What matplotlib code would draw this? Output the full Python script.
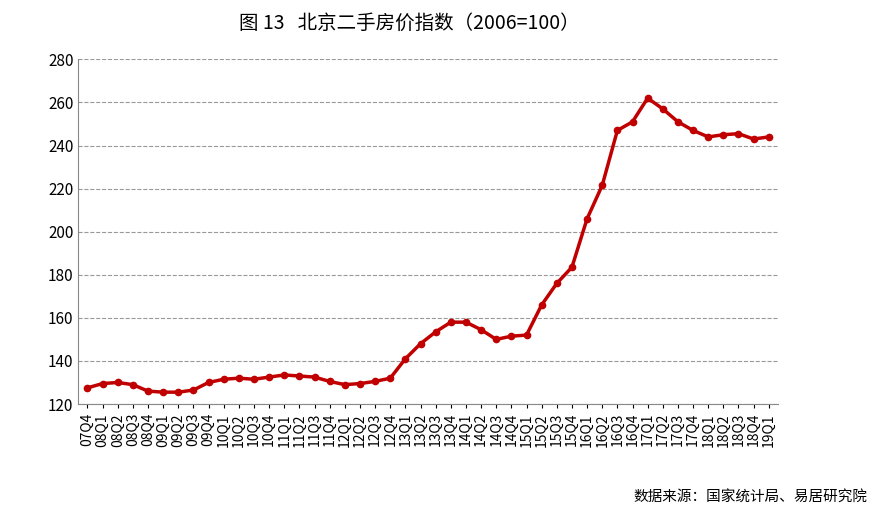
import matplotlib
matplotlib.use("Agg")
import matplotlib.pyplot as plt

plt.rcParams['font.family'] = ['Noto Sans CJK SC', 'DejaVu Sans']

quarters = ["07Q4"]
for y in range(8, 19):
    for q in range(1, 5):
        quarters.append(f"{y:02d}Q{q}")
quarters.append("19Q1")

values = [127.5, 129.5, 130, 129, 126, 125.5, 125.5, 126.5, 130, 131.5, 132, 131.5,
          132.5, 133.5, 133, 132.5, 130.5, 129, 129.5, 130.5, 132, 141, 148, 153.5,
          158, 158, 154.5, 150, 151.5, 152, 166, 176, 183.5, 206, 221.5, 247, 251,
          262, 257, 251, 247, 244, 245, 245.5, 243, 244]

fig = plt.figure(figsize=(8.9, 5.16), dpi=100)
ax = fig.add_axes([0.088, 0.217, 0.786, 0.668])
x = range(len(quarters))
ax.plot(x, values, color='#C00000', lw=2.5, marker='o', ms=4.5)
ax.set_ylim(120, 280)
ax.set_yticks(range(120, 281, 20))
ax.set_xlim(-0.6, len(quarters) - 0.4)
ax.set_xticks(list(x))
ax.set_xticklabels(quarters, rotation=90, fontsize=10)
ax.tick_params(axis='y', labelsize=11, length=0)
ax.tick_params(axis='x', length=3)
ax.grid(axis='y', ls='--', color='#999999', lw=0.8)
for s in ['top', 'right']:
    ax.spines[s].set_visible(False)
ax.spines['left'].set_color('#888888')
ax.spines['bottom'].set_color('#888888')
fig.text(0.46, 0.955, "图 13   北京二手房价指数（2006=100）", ha='center', va='center', fontsize=14)
fig.text(0.975, 0.035, "数据来源：国家统计局、易居研究院", ha='right', va='center', fontsize=10.5)
fig.savefig("out.png", dpi=100)
